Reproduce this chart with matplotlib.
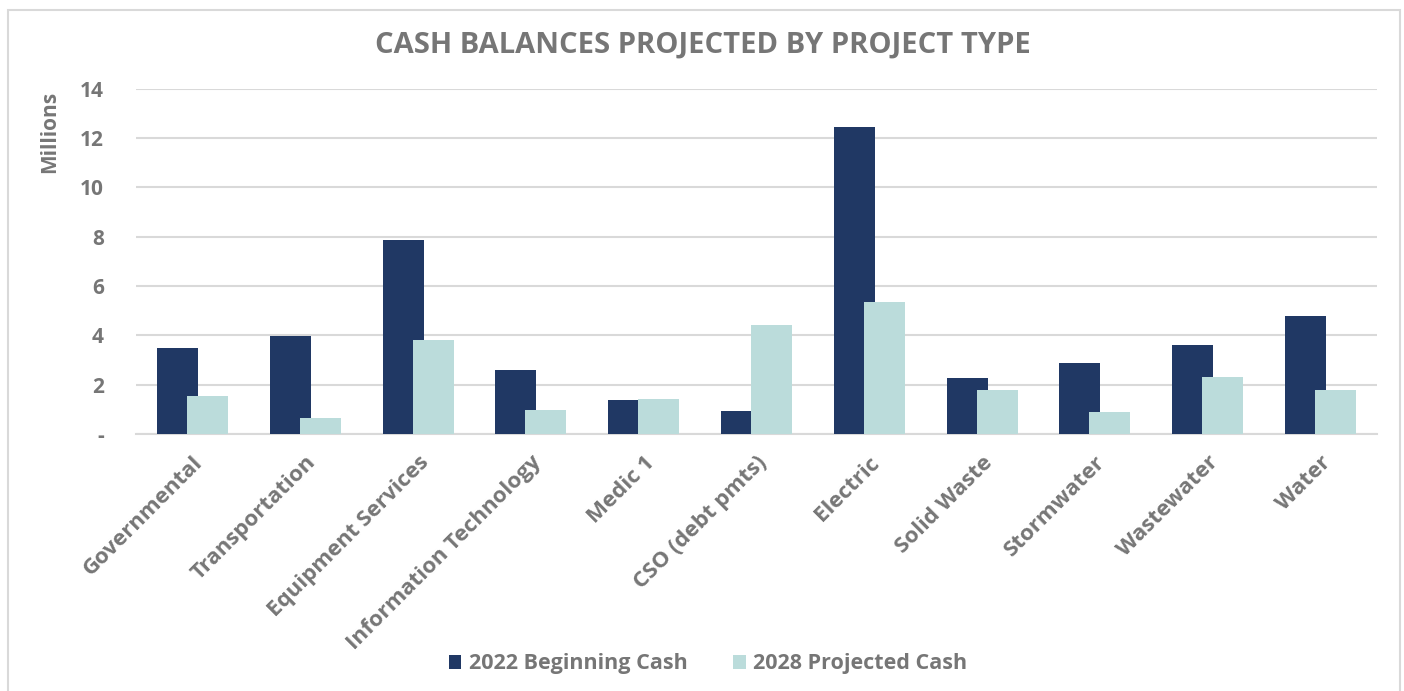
import matplotlib
matplotlib.use("Agg")
import matplotlib.pyplot as plt
import numpy as np
from matplotlib.patches import Rectangle

categories = ["Governmental", "Transportation", "Equipment Services", "Information Technology",
              "Medic 1", "CSO (debt pmts)", "Electric", "Solid Waste", "Stormwater",
              "Wastewater", "Water"]
beginning_2022 = [3.50, 3.96, 7.85, 2.58, 1.39, 0.92, 12.43, 2.26, 2.87, 3.62, 4.77]
projected_2028 = [1.53, 0.66, 3.82, 0.96, 1.42, 4.41, 5.34, 1.77, 0.89, 2.31, 1.80]
yticks = [0, 2, 4, 6, 8, 10, 12, 14]
ytick_labels = ["-", "2", "4", "6", "8", "10", "12", "14"]

DARK = "#203864"
LIGHT = "#BBDCDB"
GRAY = "#767676"
GRID = "#D9D9D9"
FONT = "Open Sans"

W, H = 1404, 691
fig = plt.figure(figsize=(W / 100, H / 100), dpi=100)
fig.patch.set_facecolor("white")

# outer border
fig.add_artist(Rectangle((7.5 / W, -0.01), (1400 - 7.5) / W, 1 - 9.5 / H + 0.01,
                         transform=fig.transFigure, fill=False, edgecolor="#D9D9D9", lw=1.5))

ax = fig.add_axes([136 / W, 1 - 434 / H, (1377 - 136) / W, (434 - 88.7) / H])
x = np.arange(len(categories))
bw = 0.363
off = 0.133
ax.bar(x - off, beginning_2022, bw, color=DARK, label="2022 Beginning Cash", zorder=3)
ax.bar(x + off, projected_2028, bw, color=LIGHT, label="2028 Projected Cash", zorder=4)

ax.set_xlim(-0.5, len(categories) - 0.5)
ax.set_ylim(0, 14)
ax.set_yticks(yticks)
ax.set_yticklabels(ytick_labels, fontsize=15, fontweight="bold", color=GRAY, family=FONT)
ax.yaxis.grid(True, color=GRID, lw=1.5, zorder=0)
ax.set_axisbelow(True)
ax.tick_params(axis="both", length=0)
ax.tick_params(axis="y", pad=23)
for s in ["top", "right", "left"]:
    ax.spines[s].set_visible(False)
ax.spines["bottom"].set_color(GRID)
ax.spines["bottom"].set_linewidth(1.5)

ax.set_xticks(x)
ax.set_xticklabels(categories, rotation=45, ha="right", va="top", rotation_mode="anchor",
                   fontsize=16, fontweight="bold", color=GRAY, family=FONT)
ax.tick_params(axis="x", pad=13)

fig.text(703 / W, 1 - 45 / H, "CASH BALANCES PROJECTED BY PROJECT TYPE", ha="center", va="center",
         fontsize=21, fontweight="bold", color=GRAY, family=FONT)
fig.text(50 / W, 1 - 132 / H, "Millions", rotation=90, ha="center", va="center",
         fontsize=15, fontweight="bold", color=GRAY, family=FONT)

leg = fig.legend(loc="center", bbox_to_anchor=(708 / W, 1 - 664 / H), ncol=2, frameon=False,
                 prop={"family": FONT, "weight": "bold", "size": 15.5},
                 handlelength=0.6, handleheight=0.6, handletextpad=0.35, columnspacing=2.1)
for t in leg.get_texts():
    t.set_color(GRAY)

fig.savefig("out.png", dpi=100, facecolor="white")
